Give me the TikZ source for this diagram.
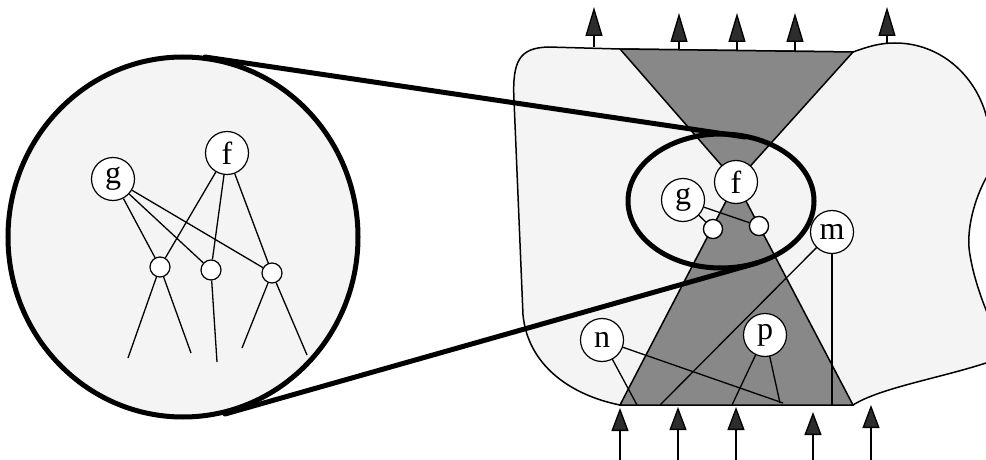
\documentclass[tikz,border=0pt]{standalone}
\usepackage{fontspec}
\setmainfont{Liberation Serif}
\usetikzlibrary{arrows.meta}
\definecolor{shade}{RGB}{136,136,136}
\definecolor{light}{RGB}{244,244,244}
\definecolor{headcol}{RGB}{45,45,45}
\begin{document}
\begin{tikzpicture}[x=1pt,y=-1pt,
  nd/.style={circle,draw,fill=white,line width=1.2pt,minimum size=43pt,inner sep=0pt,font=\fontsize{32}{32}\selectfont},
  sm/.style={circle,draw,fill=white,line width=1.2pt,minimum size=19pt,inner sep=0pt},
  ln/.style={line width=1.3pt},
  heavy/.style={line width=5pt,line cap=round},
  outline/.style={line width=1.5pt},
  uparr/.style={line width=1.3pt,-{Triangle[length=29pt,width=17pt,fill=headcol]}},
  botarr/.style={line width=1.3pt,-{Triangle[length=23pt,width=17pt,fill=headcol]}}
]
\useasboundingbox (0,0) rectangle (986,460);

% ---------- magnified circle ----------
\draw[heavy,fill=light] (183,237) ellipse [x radius=175, y radius=180];

% ---------- right region ----------
\draw[outline,fill=light] (620,49) -- (853,52)
  .. controls (870,46) and (880,43) .. (895,43)
  .. controls (940,43) and (975,75) .. (986,115)
  .. controls (995,140) and (995,165) .. (985,180)
  .. controls (972,205) and (966,235) .. (970,255)
  .. controls (974,280) and (985,310) .. (995,330)
  .. controls (1000,345) and (995,358) .. (986,363)
  .. controls (940,378) and (880,388) .. (853,405)
  -- (620,405)
  .. controls (570,395) and (528,365) .. (523,315)
  -- (514,100)
  .. controls (512,60) and (520,48) .. (548,47) -- cycle;

\coordinate (F) at (736,182);
\coordinate (TL) at (620,49);
\coordinate (TR) at (853,52);
\coordinate (BL) at (620,405);
\coordinate (BR) at (853,405);
\draw[outline,fill=shade] (TL) -- (TR) -- (F) -- cycle;
\draw[outline,fill=shade] (F) -- (BL) -- (BR) -- cycle;

% ---------- connecting lens lines ----------
\coordinate (c1) at (205,57);
\coordinate (e1) at (745,137);
\coordinate (c2) at (225,414);
\coordinate (e2) at (757,263);
\draw[heavy] (c1) -- (e1);
\draw[heavy] (c2) -- (e2);
\draw[heavy] (721,201) ellipse [x radius=93, y radius=67];

% ---------- nodes in right region ----------
\node[sm] (sL) at (713,229) {};
\node[sm] (sR) at (759,226) {};
\coordinate (m1) at (660,405);
\coordinate (m2) at (832,405);
\coordinate (n1) at (637,405);
\coordinate (n2) at (783,403);
\coordinate (p1) at (732,405);
\coordinate (p2) at (780,403);
\path (683,200) coordinate (gpos) (832,232) coordinate (mpos)
      (602,340) coordinate (npos) (765,335) coordinate (ppos);
\draw[ln] (gpos) -- (sL);
\draw[ln] (gpos) -- (sR);
\draw[ln] (mpos) -- (m1);
\draw[ln] (mpos) -- (m2);
\draw[ln] (npos) -- (n1);
\draw[ln] (npos) -- (n2);
\draw[ln] (ppos) -- (p1);
\draw[ln] (ppos) -- (p2);
\node[sm] at (sL) {};
\node[sm] at (sR) {};
\node[nd] (g) at (gpos) {g};
\node[nd] (f) at (F) {f};
\node[nd] (m) at (mpos) {m};
\node[nd] (n) at (npos) {n};
\node[nd] (p) at (ppos) {p};

% ---------- magnified content ----------
\node[nd] (g2) at (113,179) {g};
\node[nd] (f2) at (227,153) {f};
\node[sm,minimum size=20pt] (s1) at (160,267) {};
\node[sm,minimum size=20pt] (s2) at (211,270) {};
\node[sm,minimum size=20pt] (s3) at (272,273) {};
\coordinate (l1) at (128,358);
\coordinate (l2) at (191,353);
\coordinate (l3) at (217,362);
\coordinate (l4) at (242,348);
\coordinate (l5) at (307,355);
\draw[ln] (g2) -- (s1);
\draw[ln] (g2) -- (s2);
\draw[ln] (g2) -- (s3);
\draw[ln] (f2) -- (s1);
\draw[ln] (f2) -- (s2);
\draw[ln] (f2) -- (s3);
\draw[ln] (s1) -- (l1);
\draw[ln] (s1) -- (l2);
\draw[ln] (s2) -- (l3);
\draw[ln] (s3) -- (l4);
\draw[ln] (s3) -- (l5);

% ---------- arrows ----------
\foreach \x/\b/\t [count=\i] in {594/47/7, 679/50/13, 737/50/13, 795/51/13, 887/44/7} {
  \coordinate (ub\i) at (\x,\b);
  \coordinate (ut\i) at (\x,\t);
  \draw[uparr] (ub\i) -- (ut\i);
}
\foreach \x/\t [count=\i] in {620/408, 678/407, 736/407, 813/412, 871/405} {
  \coordinate (db\i) at (\x,460);
  \coordinate (dt\i) at (\x,\t);
  \draw[botarr] (db\i) -- (dt\i);
}
\end{tikzpicture}
\end{document}
